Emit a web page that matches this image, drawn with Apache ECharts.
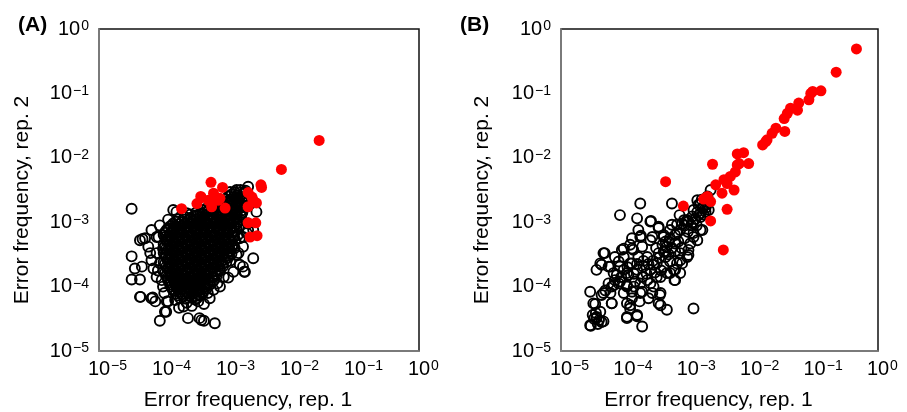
<!DOCTYPE html>
<html>
<head>
<meta charset="utf-8">
<title>Error frequency scatter</title>
<script src="https://cdn.jsdelivr.net/npm/echarts@6/dist/echarts.min.js"></script>
<style>
  html, body { margin: 0; padding: 0; background: #fff; }
  #main { width: 907px; height: 412px; }
</style>
</head>
<body>
<div id="main"></div>
<script>
// all values are log10 of error frequency: [rep. 1, rep. 2]
var decades = [-5, 0];
var panelLabels = ['(A)', '(B)'];
var xTitle = 'Error frequency, rep. 1';
var yTitle = 'Error frequency, rep. 2';

// panel A, open circles (dense core + fringe)
var openA = [
  [-2.79,-2.50],[-2.71,-2.51],
  [-2.88,-2.53],[-2.79,-2.54],[-2.72,-2.53],
  [-2.93,-2.57],[-2.84,-2.58],[-2.75,-2.56],
  [-2.98,-2.60],[-2.89,-2.61],[-2.80,-2.60],[-2.73,-2.61],
  [-3.02,-2.64],[-2.94,-2.65],[-2.85,-2.63],[-2.77,-2.64],
  [-3.07,-2.67],[-2.98,-2.68],[-2.89,-2.67],[-2.81,-2.68],[-2.74,-2.67],
  [-3.12,-2.71],[-3.03,-2.72],[-2.94,-2.70],[-2.86,-2.71],[-2.77,-2.72],
  [-3.22,-2.74],[-3.13,-2.75],[-3.04,-2.74],[-2.95,-2.75],[-2.86,-2.74],[-2.78,-2.75],
  [-3.31,-2.78],[-3.22,-2.79],[-3.13,-2.77],[-3.04,-2.78],[-2.95,-2.79],[-2.86,-2.78],[-2.77,-2.77],
  [-3.39,-2.81],[-3.30,-2.82],[-3.21,-2.81],[-3.12,-2.82],[-3.03,-2.81],[-2.94,-2.82],[-2.85,-2.81],[-2.77,-2.82],
  [-3.48,-2.85],[-3.39,-2.86],[-3.30,-2.84],[-3.21,-2.85],[-3.12,-2.86],[-3.03,-2.85],[-2.94,-2.84],[-2.85,-2.86],[-2.76,-2.85],
  [-3.57,-2.88],[-3.48,-2.89],[-3.39,-2.88],[-3.30,-2.89],[-3.21,-2.88],[-3.12,-2.89],[-3.03,-2.88],[-2.94,-2.89],[-2.85,-2.88],[-2.78,-2.89],
  [-3.66,-2.92],[-3.57,-2.93],[-3.48,-2.91],[-3.39,-2.92],[-3.30,-2.93],[-3.21,-2.92],[-3.12,-2.91],[-3.03,-2.92],[-2.94,-2.93],[-2.85,-2.92],[-2.78,-2.91],
  [-3.75,-2.95],[-3.66,-2.96],[-3.57,-2.95],[-3.48,-2.96],[-3.39,-2.95],[-3.30,-2.96],[-3.21,-2.95],[-3.12,-2.96],[-3.03,-2.95],[-2.94,-2.96],[-2.85,-2.95],[-2.79,-2.96],
  [-3.80,-2.99],[-3.71,-3.00],[-3.62,-2.98],[-3.53,-2.99],[-3.44,-3.00],[-3.35,-2.99],[-3.26,-2.98],[-3.17,-2.99],[-3.08,-3.00],[-2.99,-2.99],[-2.90,-2.98],[-2.81,-2.99],
  [-3.84,-3.02],[-3.75,-3.03],[-3.66,-3.02],[-3.57,-3.03],[-3.48,-3.02],[-3.39,-3.03],[-3.30,-3.02],[-3.21,-3.03],[-3.12,-3.02],[-3.03,-3.03],[-2.94,-3.02],[-2.85,-3.03],
  [-3.88,-3.06],[-3.79,-3.07],[-3.70,-3.05],[-3.61,-3.06],[-3.52,-3.07],[-3.43,-3.06],[-3.34,-3.05],[-3.25,-3.06],[-3.16,-3.07],[-3.07,-3.06],[-2.98,-3.05],[-2.89,-3.06],[-2.81,-3.07],
  [-3.92,-3.09],[-3.83,-3.10],[-3.74,-3.09],[-3.65,-3.10],[-3.56,-3.09],[-3.47,-3.10],[-3.38,-3.09],[-3.29,-3.10],[-3.20,-3.09],[-3.11,-3.10],[-3.02,-3.09],[-2.93,-3.10],[-2.85,-3.09],
  [-3.95,-3.13],[-3.86,-3.14],[-3.77,-3.12],[-3.68,-3.13],[-3.59,-3.14],[-3.50,-3.13],[-3.41,-3.12],[-3.32,-3.13],[-3.23,-3.14],[-3.14,-3.13],[-3.05,-3.12],[-2.96,-3.13],[-2.87,-3.14],
  [-3.97,-3.16],[-3.88,-3.17],[-3.79,-3.16],[-3.70,-3.17],[-3.61,-3.16],[-3.52,-3.17],[-3.43,-3.16],[-3.34,-3.17],[-3.25,-3.16],[-3.16,-3.17],[-3.07,-3.16],[-2.98,-3.17],[-2.89,-3.16],
  [-3.99,-3.20],[-3.90,-3.21],[-3.81,-3.19],[-3.72,-3.20],[-3.63,-3.21],[-3.54,-3.20],[-3.45,-3.19],[-3.36,-3.20],[-3.27,-3.21],[-3.18,-3.20],[-3.09,-3.19],[-3.00,-3.20],[-2.91,-3.21],[-2.83,-3.20],
  [-3.97,-3.23],[-3.88,-3.24],[-3.79,-3.23],[-3.70,-3.24],[-3.61,-3.23],[-3.52,-3.24],[-3.43,-3.23],[-3.34,-3.24],[-3.25,-3.23],[-3.16,-3.24],[-3.07,-3.23],[-2.98,-3.24],[-2.89,-3.23],
  [-3.95,-3.27],[-3.86,-3.28],[-3.77,-3.26],[-3.68,-3.27],[-3.59,-3.28],[-3.50,-3.27],[-3.41,-3.26],[-3.32,-3.27],[-3.23,-3.28],[-3.14,-3.27],[-3.05,-3.26],[-2.96,-3.27],[-2.87,-3.28],
  [-3.93,-3.30],[-3.84,-3.31],[-3.75,-3.30],[-3.66,-3.31],[-3.57,-3.30],[-3.48,-3.31],[-3.39,-3.30],[-3.30,-3.31],[-3.21,-3.30],[-3.12,-3.31],[-3.03,-3.30],[-2.94,-3.31],
  [-3.99,-3.34],[-3.90,-3.35],[-3.81,-3.33],[-3.72,-3.34],[-3.63,-3.35],[-3.54,-3.34],[-3.45,-3.33],[-3.36,-3.34],[-3.27,-3.35],[-3.18,-3.34],[-3.09,-3.33],[-3.00,-3.34],[-2.91,-3.35],
  [-3.97,-3.37],[-3.88,-3.38],[-3.79,-3.37],[-3.70,-3.38],[-3.61,-3.37],[-3.52,-3.38],[-3.43,-3.37],[-3.34,-3.38],[-3.25,-3.37],[-3.16,-3.38],[-3.07,-3.37],[-2.98,-3.38],[-2.92,-3.37],
  [-3.95,-3.41],[-3.86,-3.42],[-3.77,-3.40],[-3.68,-3.41],[-3.59,-3.42],[-3.50,-3.41],[-3.41,-3.40],[-3.32,-3.41],[-3.23,-3.42],[-3.14,-3.41],[-3.05,-3.40],[-2.96,-3.41],
  [-3.93,-3.44],[-3.84,-3.45],[-3.75,-3.44],[-3.66,-3.45],[-3.57,-3.44],[-3.48,-3.45],[-3.39,-3.44],[-3.30,-3.45],[-3.21,-3.44],[-3.12,-3.45],[-3.03,-3.44],[-2.95,-3.45],
  [-3.99,-3.48],[-3.90,-3.49],[-3.81,-3.47],[-3.72,-3.48],[-3.63,-3.49],[-3.54,-3.48],[-3.45,-3.47],[-3.36,-3.48],[-3.27,-3.49],[-3.18,-3.48],[-3.09,-3.47],[-3.00,-3.48],[-2.93,-3.49],
  [-3.97,-3.51],[-3.88,-3.52],[-3.79,-3.51],[-3.70,-3.52],[-3.61,-3.51],[-3.52,-3.52],[-3.43,-3.51],[-3.34,-3.52],[-3.25,-3.51],[-3.16,-3.52],[-3.07,-3.51],[-2.99,-3.52],
  [-3.95,-3.55],[-3.86,-3.56],[-3.77,-3.54],[-3.68,-3.55],[-3.59,-3.56],[-3.50,-3.55],[-3.41,-3.54],[-3.32,-3.55],[-3.23,-3.56],[-3.14,-3.55],[-3.05,-3.54],[-2.98,-3.55],
  [-3.93,-3.58],[-3.84,-3.59],[-3.75,-3.58],[-3.66,-3.59],[-3.57,-3.58],[-3.48,-3.59],[-3.39,-3.58],[-3.30,-3.59],[-3.21,-3.58],[-3.12,-3.59],[-3.03,-3.58],
  [-3.99,-3.62],[-3.90,-3.63],[-3.81,-3.61],[-3.72,-3.62],[-3.63,-3.63],[-3.54,-3.62],[-3.45,-3.61],[-3.36,-3.62],[-3.27,-3.63],[-3.18,-3.62],[-3.09,-3.61],[-3.01,-3.62],
  [-3.97,-3.65],[-3.88,-3.66],[-3.79,-3.65],[-3.70,-3.66],[-3.61,-3.65],[-3.52,-3.66],[-3.43,-3.65],[-3.34,-3.66],[-3.25,-3.65],[-3.16,-3.66],[-3.07,-3.65],
  [-3.95,-3.69],[-3.86,-3.70],[-3.77,-3.68],[-3.68,-3.69],[-3.59,-3.70],[-3.50,-3.69],[-3.41,-3.68],[-3.32,-3.69],[-3.23,-3.70],[-3.14,-3.69],[-3.06,-3.68],
  [-3.93,-3.72],[-3.84,-3.73],[-3.75,-3.72],[-3.66,-3.73],[-3.57,-3.72],[-3.48,-3.73],[-3.39,-3.72],[-3.30,-3.73],[-3.21,-3.72],[-3.12,-3.73],
  [-3.99,-3.76],[-3.90,-3.77],[-3.81,-3.75],[-3.72,-3.76],[-3.63,-3.77],[-3.54,-3.76],[-3.45,-3.75],[-3.36,-3.76],[-3.27,-3.77],[-3.18,-3.76],[-3.11,-3.75],
  [-3.97,-3.79],[-3.88,-3.80],[-3.79,-3.79],[-3.70,-3.80],[-3.61,-3.79],[-3.52,-3.80],[-3.43,-3.79],[-3.34,-3.80],[-3.25,-3.79],[-3.17,-3.80],
  [-3.95,-3.83],[-3.86,-3.84],[-3.77,-3.82],[-3.68,-3.83],[-3.59,-3.84],[-3.50,-3.83],[-3.41,-3.82],[-3.32,-3.83],[-3.23,-3.84],[-3.16,-3.83],
  [-3.93,-3.86],[-3.84,-3.87],[-3.75,-3.86],[-3.66,-3.87],[-3.57,-3.86],[-3.48,-3.87],[-3.39,-3.86],[-3.30,-3.87],[-3.22,-3.86],
  [-3.92,-3.90],[-3.83,-3.91],[-3.74,-3.89],[-3.65,-3.90],[-3.56,-3.91],[-3.47,-3.90],[-3.38,-3.89],[-3.29,-3.90],[-3.21,-3.91],
  [-3.90,-3.93],[-3.81,-3.94],[-3.72,-3.93],[-3.63,-3.94],[-3.54,-3.93],[-3.45,-3.94],[-3.36,-3.93],[-3.27,-3.94],
  [-3.89,-3.97],[-3.80,-3.98],[-3.71,-3.96],[-3.62,-3.97],[-3.53,-3.98],[-3.44,-3.97],[-3.35,-3.96],[-3.27,-3.97],
  [-3.87,-4.00],[-3.78,-4.01],[-3.69,-4.00],[-3.60,-4.01],[-3.51,-4.00],[-3.42,-4.01],[-3.33,-4.00],
  [-3.85,-4.04],[-3.76,-4.05],[-3.67,-4.03],[-3.58,-4.04],[-3.49,-4.05],[-3.40,-4.04],[-3.32,-4.03],
  [-3.83,-4.07],[-3.74,-4.08],[-3.65,-4.07],[-3.56,-4.08],[-3.47,-4.07],[-3.38,-4.08],
  [-3.80,-4.11],[-3.71,-4.12],[-3.62,-4.10],[-3.53,-4.11],[-3.44,-4.12],[-3.38,-4.11],
  [-3.77,-4.14],[-3.68,-4.15],[-3.59,-4.14],[-3.50,-4.15],[-3.43,-4.14],
  [-3.73,-4.18],[-3.64,-4.19],[-3.55,-4.17],[-3.47,-4.18],
  // fringe
  [-4.49,-2.79],[-4.18,-3.12],[-4.32,-3.26],[-4.49,-3.53],[-4.33,-3.69],[-4.44,-3.72],[-4.49,-3.89],
  [-4.36,-3.89],[-4.35,-4.16],[-4.16,-4.17],[-4.12,-4.23],[-4.05,-4.53],[-3.95,-4.39],[-3.61,-4.49],
  [-3.43,-4.49],[-3.40,-4.52],[-3.36,-4.53],[-3.19,-4.57],[-4.10,-3.23],[-4.23,-3.38],[-4.18,-3.59],
  [-4.15,-3.72],[-2.59,-3.56],[-2.73,-3.77],[-2.80,-3.66],[-2.98,-3.86],[-3.21,-4.05],[-3.36,-4.27],
  [-3.45,-4.23],[-3.68,-4.31],[-3.92,-4.23],[-3.84,-2.81],[-2.67,-2.45],[-2.85,-2.50],[-2.54,-2.84],
  [-2.67,-3.12],[-3.92,-2.96],[-3.79,-2.84],[-4.07,-3.23],[-4.00,-3.41],[-4.10,-3.48],[-4.05,-3.64],
  [-4.10,-3.85],[-4.00,-4.00],[-3.81,-4.21],[-3.27,-4.18],[-3.11,-4.00],[-2.90,-3.77],[-2.82,-3.48],
  [-2.75,-3.38],[-2.69,-3.17],[-2.59,-3.12],[-2.67,-3.02],[-2.95,-2.53],[-3.63,-2.86],[-3.84,-3.12],
  [-3.94,-3.28],[-4.36,-3.28],[-4.28,-3.25],[-4.20,-3.48],[-4.36,-4.16],[-4.18,-4.18],[-3.94,-4.23],
  [-3.97,-4.39],[-2.75,-3.69],[-2.72,-3.77],[-2.85,-3.51],[-2.75,-3.23],[-3.63,-4.25],[-3.55,-4.30],
  [-3.75,-4.33],[-3.50,-4.20],[-3.30,-4.10],[-3.15,-3.95],[-3.05,-3.85],[-2.95,-3.60],[-2.88,-3.40],
  [-2.80,-3.25],[-4.05,-3.05],[-4.02,-3.90],[-4.08,-3.75],[-3.98,-4.10]
];

// panel A, red filled points
var redA = [
  [-1.56,-1.73],[-2.15,-2.18],[-2.47,-2.42],[-2.46,-2.46],[-3.25,-2.38],[-3.07,-2.46],[-3.41,-2.60],
  [-3.21,-2.55],[-3.29,-2.66],[-3.47,-2.71],[-3.14,-2.66],[-3.03,-2.78],[-3.24,-2.76],[-3.71,-2.79],
  [-2.67,-2.54],[-2.61,-2.61],[-2.54,-2.70],[-2.67,-2.76],[-2.67,-3.01],[-2.55,-3.01],[-2.64,-3.23],
  [-2.53,-3.21],[-3.11,-2.63],[-3.40,-2.62],[-2.59,-2.66]
];

// panel B, open circles
var openB = [
  [-3.75,-3.23],[-3.46,-3.07],[-3.59,-3.28],[-3.38,-3.23],[-3.28,-3.12],[-3.17,-3.04],[-3.09,-3.02],
  [-3.01,-2.97],[-2.93,-2.91],[-2.85,-2.84],[-2.75,-2.76],[-2.77,-3.12],[-2.91,-3.17],[-2.85,-3.28],
  [-2.96,-3.33],[-2.99,-3.51],[-3.09,-3.64],[-3.22,-3.74],[-3.20,-3.90],[-3.43,-3.85],[-3.54,-3.66],
  [-3.64,-3.54],[-3.72,-3.38],[-3.88,-3.41],[-4.04,-3.43],[-4.01,-3.54],[-4.33,-3.48],[-4.38,-3.64],
  [-4.44,-3.74],[-4.25,-3.69],[-4.17,-3.79],[-4.07,-3.69],[-3.91,-3.64],[-3.80,-3.74],[-3.96,-3.79],
  [-4.09,-3.95],[-4.20,-4.00],[-3.96,-4.00],[-3.83,-3.92],[-3.64,-3.90],[-3.54,-4.00],[-3.75,-4.10],
  [-3.62,-4.18],[-3.43,-4.10],[-3.46,-4.26],[-3.33,-4.36],[-2.91,-4.34],[-4.54,-4.08],[-4.49,-4.26],
  [-4.33,-4.10],[-4.20,-4.26],[-4.38,-4.39],[-4.44,-4.49],[-4.36,-4.55],[-4.54,-4.60],[-3.96,-4.47],
  [-3.80,-4.44],[-3.72,-4.62],[-3.91,-4.29],[-3.88,-4.18],[-4.07,-2.89],[-3.80,-2.94],[-3.59,-2.99],
  [-3.75,-2.71],[-3.25,-2.71],[-3.78,-3.12],[-2.83,-2.73],[-2.77,-2.78],[-2.72,-2.84],[-2.67,-2.81],
  [-2.80,-2.86],[-2.64,-2.50],[-2.69,-2.60],[-2.85,-2.66],[-2.80,-2.71],[-2.72,-2.78],[-2.91,-2.81],
  [-2.83,-2.89],[-3.01,-2.97],[-2.80,-3.12],[-2.91,-3.23],[-2.99,-3.43],[-3.01,-3.54],[-3.12,-3.12],
  [-3.17,-3.17],[-3.25,-3.04],[-3.28,-3.25],[-3.20,-3.33],[-3.33,-3.38],[-3.38,-3.46],[-3.12,-3.48],
  [-3.46,-3.48],[-3.35,-3.54],[-3.28,-3.61],[-3.17,-3.64],[-3.12,-3.59],[-3.20,-3.74],[-3.12,-3.79],
  [-3.28,-3.79],[-3.38,-3.69],[-3.49,-3.64],[-3.59,-3.74],[-3.70,-3.69],[-3.78,-3.54],[-3.86,-3.43],
  [-3.88,-3.64],[-3.72,-3.85],[-3.59,-3.95],[-3.49,-3.85],[-3.21,-3.90],[-3.33,-3.79],[-3.06,-2.97],
  [-2.99,-2.99],[-3.13,-2.89],[-3.38,-3.20],[-3.56,-3.23],[-3.74,-3.21],[-3.46,-3.09],[-3.58,-2.98],
  [-4.31,-3.48],[-4.01,-3.41],[-3.91,-3.35],[-4.15,-3.54],[-4.09,-3.61],[-4.36,-3.66],[-4.22,-3.69],
  [-4.01,-3.74],[-4.12,-3.82],[-3.94,-3.82],[-4.07,-3.92],[-3.96,-3.98],[-4.17,-3.98],[-3.88,-4.08],
  [-4.01,-4.10],[-4.22,-4.10],[-4.30,-4.06],[-4.36,-4.13],[-4.46,-4.27],[-4.20,-4.26],[-3.96,-4.26],
  [-3.76,-4.23],[-3.72,-4.08],[-3.56,-4.10],[-3.44,-4.13],[-3.43,-4.29],[-3.91,-4.34],[-3.80,-4.46],
  [-3.96,-4.49],[-4.45,-4.41],[-4.40,-4.52],[-4.33,-4.54],[-4.53,-4.61],[-4.44,-4.47],[-3.88,-3.25],
  [-3.30,-3.30],[-3.25,-3.40],[-3.35,-3.45],[-3.40,-3.35],[-3.45,-3.55],[-3.30,-3.50],[-3.20,-3.45],
  [-3.15,-3.30],[-3.05,-3.25],[-3.10,-3.40],[-3.00,-3.15],[-2.95,-3.05],[-3.05,-3.05],[-3.20,-3.20],
  [-3.35,-3.30],[-3.50,-3.40],[-3.55,-3.60],[-3.62,-3.65],[-3.70,-3.60],[-3.80,-3.65],[-3.85,-3.80],
  [-3.75,-3.95],[-3.65,-3.80],[-3.42,-3.75],[-3.52,-3.78],[-3.95,-3.70],[-4.05,-3.85],[-4.15,-3.90],
  [-4.25,-3.95],[-3.85,-4.00],[-2.88,-2.95],[-2.80,-2.92],[-2.92,-3.00],[-2.86,-3.05],[-2.75,-2.88],
  [-2.70,-2.72],[-2.78,-2.65],[-4.48,-4.50],[-4.42,-4.58],[-4.50,-4.44]
];

// panel B, red filled points
var redB = [
  [-0.34,-0.31],[-0.66,-0.67],[-0.90,-0.96],[-1.03,-0.97],[-1.06,-1.00],[-1.09,-1.10],[-1.25,-1.15],
  [-1.38,-1.23],[-1.27,-1.26],[-1.43,-1.31],[-1.48,-1.39],[-1.61,-1.54],[-1.47,-1.59],[-1.67,-1.62],
  [-1.75,-1.72],[-1.77,-1.75],[-1.82,-1.80],[-2.12,-1.92],[-2.22,-1.94],[-2.04,-2.09],[-2.19,-2.09],
  [-2.22,-2.11],[-2.25,-2.22],[-2.61,-2.10],[-3.35,-2.37],[-2.33,-2.29],[-2.43,-2.34],[-2.56,-2.42],
  [-2.38,-2.40],[-2.27,-2.50],[-2.46,-2.55],[-2.69,-2.60],[-2.64,-2.68],[-2.75,-2.64],[-2.38,-2.80],
  [-2.64,-2.98],[-2.44,-3.43],[-3.07,-2.75]
];

function toValues(arr) {
  return arr.map(function (p) { return [Math.pow(10, p[0]), Math.pow(10, p[1])]; });
}

function supText(v) {
  var e = Math.round(Math.log(v) / Math.LN10);
  return e < 0 ? '\u2212' + (-e) : String(e);
}

var FONT = 'Liberation Sans';
var richLabel = {
  s: { fontSize: 14, fontFamily: FONT, color: '#000', padding: [0, 0, 5, 1] },
  h: { fontSize: 14, fontFamily: FONT, color: 'rgba(0,0,0,0)', padding: [0, 1, 5, 0] }
};

function makeX(grid) {
  return {
    type: 'log', logBase: 10, gridIndex: grid,
    min: Math.pow(10, decades[0]), max: Math.pow(10, decades[1]),
    splitNumber: 5,
    name: xTitle, nameLocation: 'middle', nameGap: 39,
    nameTextStyle: { fontSize: 21, fontFamily: FONT, color: '#000', padding: [0, 22, 0, 0] },
    axisLine: { show: true, lineStyle: { color: '#8a8a8a', width: 1.5 } },
    axisTick: { show: false }, splitLine: { show: false },
    axisLabel: {
      margin: 8, fontSize: 20, fontFamily: FONT, color: '#000',
      formatter: function (v) { var s = supText(v); return '{h|' + s + '}10{s|' + s + '}'; },
      rich: richLabel
    }
  };
}

function makeY(grid, gap) {
  return {
    type: 'log', logBase: 10, gridIndex: grid,
    min: Math.pow(10, decades[0]), max: Math.pow(10, decades[1]),
    splitNumber: 5,
    name: yTitle, nameLocation: 'middle', nameGap: gap, nameRotate: 90,
    nameTextStyle: { fontSize: 21, fontFamily: FONT, color: '#000', padding: [0, 20, 0, 0] },
    axisLine: { show: true, lineStyle: { color: '#8a8a8a', width: 1.5 } },
    axisTick: { show: false }, splitLine: { show: false },
    axisLabel: {
      margin: 10, fontSize: 20, fontFamily: FONT, color: '#000',
      formatter: function (v) { return '10{s|' + supText(v) + '}'; },
      rich: richLabel
    }
  };
}

function openSeries(data, i) {
  return {
    type: 'scatter', xAxisIndex: i, yAxisIndex: i, data: toValues(data),
    symbol: 'circle', symbolSize: 10, silent: true,
    itemStyle: { color: 'rgba(255,255,255,0)', borderColor: '#000', borderWidth: 1.9, opacity: 1 }
  };
}
function redSeries(data, i) {
  return {
    type: 'scatter', xAxisIndex: i, yAxisIndex: i, data: toValues(data),
    symbol: 'circle', symbolSize: 11, silent: true,
    itemStyle: { color: '#ff0000', opacity: 1 }
  };
}

var chart = echarts.init(document.getElementById('main'), null, { renderer: 'canvas' });
chart.setOption({
  animation: false,
  backgroundColor: '#fff',
  title: [
    { text: panelLabels[0], left: 13, top: 10, textStyle: { fontSize: 21, fontWeight: 'bold', fontFamily: FONT, color: '#000' } },
    { text: panelLabels[1], left: 455, top: 10, textStyle: { fontSize: 21, fontWeight: 'bold', fontFamily: FONT, color: '#000' } }
  ],
  // fixed plot boxes; keep v6 from shrinking them to fit the axis names
  grid: [
    { left: 99, top: 29, width: 320, height: 322, outerBoundsMode: 'none', show: true, borderColor: '#111', borderWidth: 1.5, backgroundColor: '#fff' },
    { left: 561, top: 29, width: 317, height: 322, outerBoundsMode: 'none', show: true, borderColor: '#111', borderWidth: 1.5, backgroundColor: '#fff' }
  ],
  xAxis: [makeX(0), makeX(1)],
  yAxis: [makeY(0, 66), makeY(1, 68)],
  series: [
    openSeries(openA, 0), redSeries(redA, 0),
    openSeries(openB, 1), redSeries(redB, 1)
  ]
});
</script>
</body>
</html>
